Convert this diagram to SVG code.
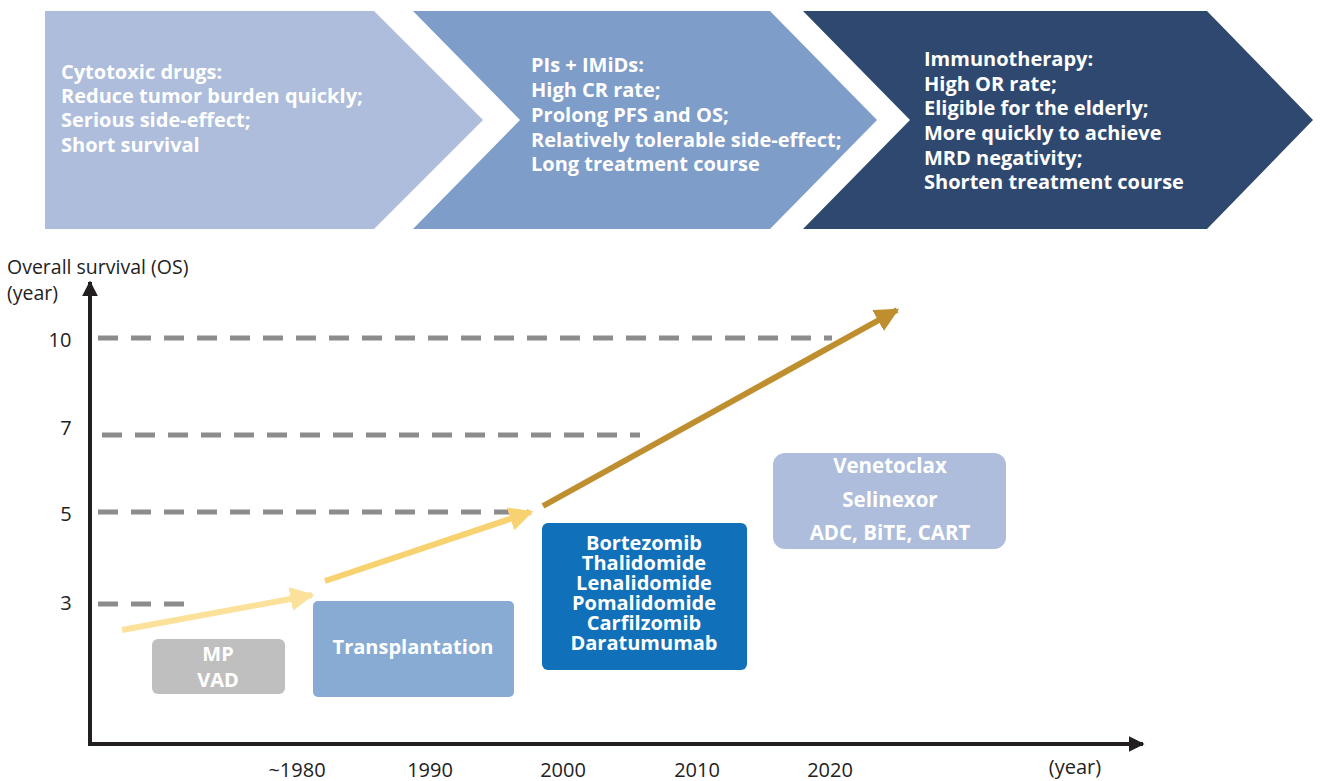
<svg xmlns="http://www.w3.org/2000/svg" width="1323" height="781" viewBox="0 0 1323 781">
<defs>
<style>
.hd{font-family:"Open Sans","Liberation Sans",sans-serif;font-weight:bold;font-size:20px;fill:#fff}
.bx{font-family:"Open Sans","Liberation Sans",sans-serif;font-weight:bold;font-size:20px;fill:#fff;text-anchor:middle}
.ax{font-family:"Open Sans","Liberation Sans",sans-serif;font-size:19.5px;fill:#222}
.tk{font-family:"Open Sans","Liberation Sans",sans-serif;font-size:20px;fill:#222;text-anchor:middle}
.dash{stroke:#8c8c8c;stroke-width:5;stroke-dasharray:20 13;fill:none}
</style>
<marker id="ak" viewBox="0 0 10 10" refX="9" refY="5" markerWidth="4" markerHeight="4" orient="auto" markerUnits="strokeWidth"><path d="M0,0 L10,5 L0,10 z" fill="#231f20"/></marker>
<marker id="a1" viewBox="0 0 10 10" refX="9" refY="5" markerWidth="4" markerHeight="4" orient="auto" markerUnits="strokeWidth"><path d="M0,0 L10,5 L0,10 z" fill="#FBE19A"/></marker>
<marker id="a2" viewBox="0 0 10 10" refX="9" refY="5" markerWidth="4" markerHeight="4" orient="auto" markerUnits="strokeWidth"><path d="M0,0 L10,5 L0,10 z" fill="#F8D270"/></marker>
<marker id="a3" viewBox="0 0 10 10" refX="9" refY="5" markerWidth="4" markerHeight="4" orient="auto" markerUnits="strokeWidth"><path d="M0,0 L10,5 L0,10 z" fill="#BF8F2F"/></marker>
</defs>
<rect width="1323" height="781" fill="#fff"/>

<g id="chevron1">
<polygon points="45,11 374,11 483,120 374,229 45,229" fill="#ADBDDB"/>
<text class="hd" x="61" y="79">Cytotoxic drugs:</text>
<text class="hd" x="61" y="103">Reduce tumor burden quickly;</text>
<text class="hd" x="61" y="127">Serious side-effect;</text>
<text class="hd" x="61" y="152">Short survival</text>
</g>
<g id="chevron2">
<polygon points="413,11 770,11 877,120 770,229 413,229 520,120" fill="#7F9DC9"/>
<text class="hd" x="531" y="72">PIs + IMiDs:</text>
<text class="hd" x="531" y="97">High CR rate;</text>
<text class="hd" x="531" y="122">Prolong PFS and OS;</text>
<text class="hd" x="531" y="147">Relatively tolerable side-effect;</text>
<text class="hd" x="531" y="171">Long treatment course</text>
</g>
<g id="chevron3">
<polygon points="803,11 1207,11 1313,120 1207,229 803,229 910,120" fill="#2F4870"/>
<text class="hd" x="924" y="66">Immunotherapy:</text>
<text class="hd" x="924" y="91">High OR rate;</text>
<text class="hd" x="924" y="115">Eligible for the elderly;</text>
<text class="hd" x="924" y="140">More quickly to achieve</text>
<text class="hd" x="924" y="165">MRD negativity;</text>
<text class="hd" x="924" y="189">Shorten treatment course</text>
</g>

<g id="axes">
<line x1="90" y1="746" x2="90" y2="282" stroke="#231f20" stroke-width="4" marker-end="url(#ak)"/>
<line x1="88" y1="744" x2="1143" y2="744" stroke="#231f20" stroke-width="4" marker-end="url(#ak)"/>
<text class="ax" x="7" y="274">Overall survival (OS)</text>
<text class="ax" x="7" y="300">(year)</text>
<text class="tk" x="60" y="347">10</text>
<text class="tk" x="66" y="435">7</text>
<text class="tk" x="66" y="521">5</text>
<text class="tk" x="66" y="610">3</text>
<text class="tk" x="297" y="777">~1980</text>
<text class="tk" x="430" y="777">1990</text>
<text class="tk" x="563" y="777">2000</text>
<text class="tk" x="697" y="777">2010</text>
<text class="tk" x="830" y="777">2020</text>
<text class="tk" x="1075" y="774">(year)</text>
</g>

<g id="gridlines">
<line class="dash" x1="98" y1="338" x2="832" y2="338"/>
<line class="dash" x1="102" y1="435" x2="640" y2="435"/>
<line class="dash" x1="98" y1="512" x2="528" y2="512"/>
<line class="dash" x1="98" y1="604" x2="184" y2="604"/>
</g>

<g id="connectors">
<line x1="122" y1="630" x2="312" y2="595" stroke="#FBE19A" stroke-width="6" marker-end="url(#a1)"/>
<line x1="325" y1="581" x2="531" y2="512" stroke="#F8D270" stroke-width="6" marker-end="url(#a2)"/>
<line x1="543" y1="506" x2="897" y2="310" stroke="#BF8F2F" stroke-width="6" marker-end="url(#a3)"/>
</g>

<g id="node-mp">
<rect x="152" y="639" width="133" height="55" rx="6" fill="#BFBFBF"/>
<text class="bx" x="218" y="661">MP</text>
<text class="bx" x="218" y="687">VAD</text>
</g>
<g id="node-transplant">
<rect x="313" y="601" width="201" height="96" rx="5" fill="#87ABD3"/>
<text class="bx" x="413" y="654">Transplantation</text>
</g>
<g id="node-novel">
<rect x="542" y="523" width="205" height="147" rx="6" fill="#1170BA"/>
<text class="bx" x="644" y="550">Bortezomib</text>
<text class="bx" x="644" y="570">Thalidomide</text>
<text class="bx" x="644" y="590">Lenalidomide</text>
<text class="bx" x="644" y="610">Pomalidomide</text>
<text class="bx" x="644" y="630">Carfilzomib</text>
<text class="bx" x="644" y="650">Daratumumab</text>
</g>
<g id="node-immuno">
<rect x="773" y="453" width="233" height="96" rx="12" fill="#ADBDDB"/>
<text class="bx" x="890" y="473" style="font-size:20.5px">Venetoclax</text>
<text class="bx" x="890" y="507" style="font-size:20.5px">Selinexor</text>
<text class="bx" x="890" y="540" style="font-size:20.5px">ADC, BiTE, CART</text>
</g>
</svg>
